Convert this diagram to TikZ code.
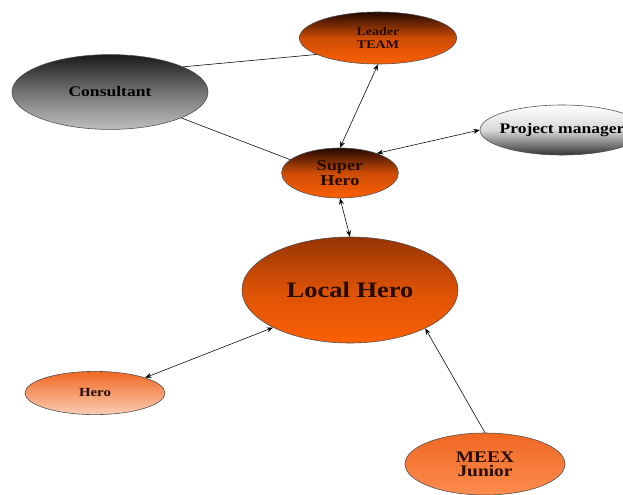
\documentclass[tikz,border=0pt]{standalone}
\usepackage{fontspec}
\setmainfont{Liberation Serif}[FakeStretch=1.2]
\usetikzlibrary{shapes.geometric,arrows.meta}
\definecolor{heroText}{RGB}{35,12,0}
\definecolor{heroDark}{RGB}{35,8,0}
\definecolor{heroBrown}{RGB}{150,52,4}
\definecolor{heroMid}{RGB}{205,76,6}
\definecolor{heroBright}{RGB}{252,96,4}
\definecolor{heroPale}{RGB}{250,205,180}
\definecolor{heroSoft}{RGB}{240,104,34}
\definecolor{meexLight}{RGB}{252,140,80}
\begin{document}
\begin{tikzpicture}[x=0.025cm,y=-0.025cm,>={Stealth[length=4.5pt,width=3.5pt]},
  every node/.style={text=heroText},
  bubble/.style={ellipse,draw=black!70,line width=.4pt,inner sep=0pt,align=center,shading=axis}]
\useasboundingbox (0,0) rectangle (623,494);
\node[bubble,top color=heroDark,bottom color=heroBright,middle color=heroMid,minimum width=3.93cm,minimum height=1.3cm,
  font=\fontsize{8.3}{9}\selectfont\bfseries] (lead) at (378,38) {Leader\\TEAM};
\node[bubble,top color=black!90,bottom color=black!25,middle color=black!55,minimum width=4.9cm,minimum height=1.87cm,
  font=\fontsize{10.4}{11}\selectfont\bfseries,text=black] (cons) at (110,92) {Consultant};
\node[bubble,top color=heroDark,bottom color=heroBright,middle color=heroMid,minimum width=2.92cm,minimum height=1.25cm,
  font=\fontsize{10.8}{10.6}\selectfont\bfseries] (super) at (340,173) {Super\\Hero};
\node[bubble,top color=white,bottom color=black!80,middle color=black!15,minimum width=4.1cm,minimum height=1.25cm,
  inner xsep=-5pt,font=\fontsize{10.4}{11}\selectfont\bfseries,text=black] (pm) at (562,130) {Project manager};
\node[bubble,top color=heroBrown,bottom color=heroBright,middle color=heroMid!70!heroBright,minimum width=5.4cm,minimum height=2.65cm,
  font=\fontsize{15.7}{17}\selectfont\bfseries] (local) at (350,290) {Local Hero};
\node[bubble,top color=heroSoft,bottom color=heroPale,minimum width=3.5cm,minimum height=1.08cm,
  font=\fontsize{8.8}{10}\selectfont\bfseries] (hero) at (95,393) {Hero};
\node[bubble,top color=heroSoft,bottom color=meexLight,minimum width=4cm,minimum height=1.55cm,
  font=\fontsize{11.5}{10}\selectfont\bfseries] (meex) at (485,464) {MEEX\\Junior};
\draw (cons.19) -- (lead.195);
\draw (cons.-20) -- (super.165);
\draw[<->] (lead.south) -- (super.north);
\draw[<->] (pm.west) -- (super.28);
\draw[<->] (super.south) -- (local.north);
\draw[<->] (local.206) -- (hero.17);
\draw[->] (meex.north) -- (local.-27);
\end{tikzpicture}
\end{document}
